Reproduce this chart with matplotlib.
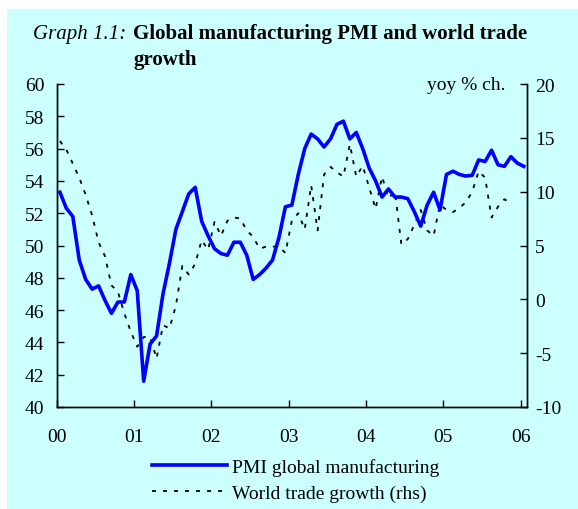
import matplotlib
matplotlib.use("Agg")
import matplotlib.pyplot as plt
import numpy as np
from matplotlib.patches import Rectangle

# Monthly data, Jan 2000 .. Jan 2006
pmi = [53.3, 52.3, 51.8, 49.1, 47.9, 47.3, 47.5, 46.6, 45.8, 46.5, 46.5, 48.2,
       47.2, 41.6, 43.9, 44.4, 47.0, 48.9, 51.0, 52.1, 53.2, 53.6, 51.5, 50.6,
       49.8, 49.5, 49.4, 50.2, 50.2, 49.4, 47.9, 48.2, 48.6, 49.1, 50.5, 52.4,
       52.5, 54.4, 56.0, 56.9, 56.6, 56.1, 56.6, 57.5, 57.7, 56.6, 57.0, 56.0,
       54.8, 54.0, 53.0, 53.5, 53.0, 53.0, 52.9, 52.1, 51.2, 52.5, 53.3, 52.2,
       54.4, 54.6, 54.4, 54.3, 54.35, 55.3, 55.2, 55.9, 55.0, 54.9, 55.5, 55.1,
       54.9]
trade = [14.7, 13.9, 12.6, 11.3, 9.7, 7.8, 5.3, 4.0, 1.3, 0.7, -1.3, -3.0,
         -4.4, -3.5, -3.5, -5.5, -2.4, -2.7, -0.6, 3.1, 2.3, 3.3, 5.5, 4.6,
         7.2, 5.9, 7.3, 7.6, 7.5, 6.4, 5.8, 4.7, 4.9, 4.9, 4.9, 4.3,
         7.3, 8.0, 6.5, 10.6, 6.4, 11.6, 12.3, 11.8, 11.4, 14.4, 11.4, 12.4,
         10.4, 8.4, 11.4, 9.4, 10.0, 5.1, 5.6, 6.9, 8.3, 6.4, 5.9, 8.8,
         8.3, 8.1, 8.5, 9.0, 10.0, 11.9, 11.3, 7.6, 8.6, 9.3, 8.9, np.nan,
         np.nan]
year_labels = ["00", "01", "02", "03", "04", "05", "06"]
left_ticks = list(range(40, 61, 2))
right_ticks = list(range(-10, 21, 5))
right_tick_labels = ["-10", "-5", "0", "5", "10", "15", "20"]

CYAN = "#CCFFFF"
serif = ["Liberation Serif", "DejaVu Serif"]
plt.rcParams["font.family"] = serif

fig = plt.figure(figsize=(5.78, 5.10), dpi=100, facecolor="white")
fig.patches.append(Rectangle((7 / 578, 0), 1, 1 - 10 / 510, transform=fig.transFigure,
                             facecolor=CYAN, edgecolor="none", zorder=-10))

ax = fig.add_axes([56.7 / 578, 102 / 510, (527 - 56.7) / 578, (408 - 85) / 510])
ax2 = ax.twinx()
ax.set_zorder(ax2.get_zorder() + 1)
ax.patch.set_visible(False)
ax2.patch.set_facecolor(CYAN)

x = np.arange(len(pmi))
l1, = ax.plot(x, pmi, color="#0000FF", lw=2.6, solid_joinstyle="round", label="PMI global manufacturing")
l2, = ax2.plot(x, trade, color="black", lw=1.3, linestyle=(0, (2.2, 3.9)), label="World trade growth (rhs)")

ax.set_xlim(-0.5, len(pmi) - 0.5)
ax.set_ylim(40, 60)
ax2.set_ylim(-10, 20)
ax.set_xticks([-0.5 + 12 * k for k in range(len(year_labels))])
ax.set_xticklabels(year_labels)
ax.set_yticks(left_ticks)
ax2.set_yticks(right_ticks)
ax2.set_yticklabels(right_tick_labels)

for a in (ax, ax2):
    a.spines["top"].set_visible(False)
    for s in a.spines.values():
        s.set_linewidth(1.0)
ax.tick_params(axis="both", direction="in", length=5, width=1, labelsize=14)
ax.tick_params(axis="x", pad=15)
ax.tick_params(axis="y", pad=9)
ax2.tick_params(axis="y", direction="in", length=5, width=1, labelsize=14, pad=6)

ax2.text(0.955, 1.0, "yoy % ch.", transform=ax2.transAxes, ha="right", va="center", fontsize=14)

fig.text(33 / 578, 1 - 34 / 510, "Graph 1.1:", style="italic", fontsize=15, va="center", ha="left")
fig.text(133 / 578, 1 - 34 / 510, "Global manufacturing PMI and world trade", fontweight="bold",
         fontsize=15, va="center", ha="left")
fig.text(133 / 578, 1 - 60 / 510, "growth", fontweight="bold", fontsize=15, va="center", ha="left")

fig.legend(handles=[l1, l2], loc="center left", bbox_to_anchor=(144 / 578, 1 - 481 / 510),
           frameon=False, fontsize=14, handlelength=3.85, handletextpad=0.26, labelspacing=0.4,
           borderaxespad=0)

fig.savefig("out.png", dpi=100, facecolor="white")
